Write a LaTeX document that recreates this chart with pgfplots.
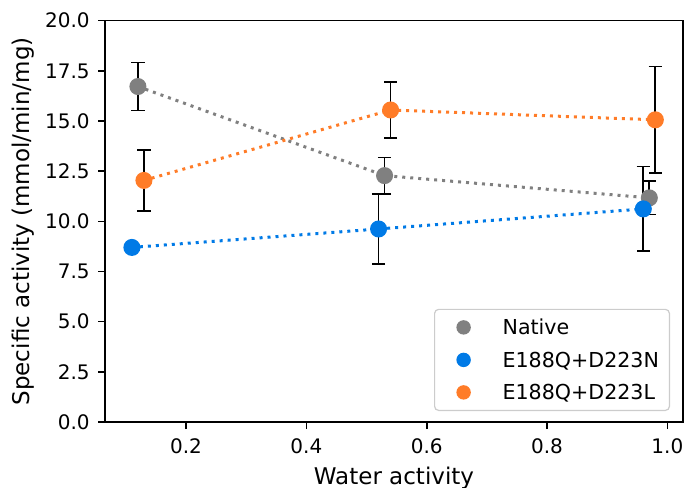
\documentclass[border=0pt]{standalone}
\usepackage{fontspec}
\setmainfont{DejaVu Sans}
\usepackage{pgfplots}
\pgfplotsset{compat=1.18}
\usepackage{pgfplotstable}
\definecolor{cgray}{RGB}{128,128,128}
\definecolor{cblue}{RGB}{0,122,230}
\definecolor{corange}{RGB}{255,124,40}
\definecolor{legedge}{RGB}{204,204,204}

\pgfplotstableread{
x y e
0.12 16.72 1.20
0.53 12.28 0.90
0.97 11.17 0.83
}\native
\pgfplotstableread{
x y e
0.11 8.70 0.0
0.52 9.62 1.73
0.96 10.62 2.11
}\mutN
\pgfplotstableread{
x y e
0.13 12.04 1.51
0.54 15.55 1.40
0.98 15.06 2.65
}\mutL

\pgfplotsset{
  dotline/.style={color=#1, line width=1.5pt, dash pattern=on 1.5pt off 2.5pt,
    mark=*, mark size=3.5pt, mark options={solid, fill=#1, draw=none}},
  legdot/.style={only marks, color=#1, mark=*, mark size=3.3pt, mark options={solid, fill=#1, draw=none}},
}

\begin{document}
\begin{tikzpicture}
\begin{axis}[
  name=ax,
  scale only axis,
  width=289pt, height=200.65pt,
  xmin=0.0653, xmax=1.026,
  ymin=0, ymax=20,
  xtick={0.2,0.4,0.6,0.8,1.0},
  ytick={0,2.5,5,7.5,10,12.5,15,17.5,20},
  tick align=outside,
  major tick length=3.5pt,
  xtick pos=bottom, ytick pos=left,
  every tick/.style={black, line width=0.8pt},
  axis line style={black, line width=0.8pt},
  /pgf/number format/assume math mode=true,
  tick label style={font=\fontsize{10}{12}\selectfont, inner sep=0pt},
  xticklabel style={yshift=-4.5pt, /pgf/number format/.cd, fixed, fixed zerofill, precision=1},
  yticklabel style={xshift=-4pt, /pgf/number format/.cd, fixed, fixed zerofill, precision=1},
  scaled ticks=false,
  xlabel={Water activity},
  ylabel={Specific activity (mmol/min/mg)},
  label style={font=\fontsize{11.5}{13}\selectfont, inner sep=0pt},
  xlabel style={at={(axis description cs:0.5,0)}, anchor=center, yshift=-28pt},
  ylabel style={at={([xshift=-41pt]axis description cs:0,0.5)}, anchor=center},
  legend style={at={(rel axis cs:1,0)}, anchor=south east, xshift=-6.5pt, yshift=5.5pt,
    draw=legedge, line width=0.6pt, rounded corners=2pt, fill=white,
    font=\fontsize{10.3}{12}\selectfont,
    inner xsep=11.2pt, inner ysep=4pt, row sep=6.25pt, column sep=16.2pt,
    nodes={inner sep=0pt, text height=8.75pt, text depth=1.25pt}},
  legend cell align=left,
  error bars/error bar style={draw=black, solid, line width=0.85pt},
  error bars/error mark options={draw=black, solid, line width=0.85pt, mark size=3.3pt, rotate=90},
]
% error bars first
\addplot[draw=none, mark=none, forget plot, error bars/.cd, y dir=both, y explicit]
  table[x=x, y=y, y error=e] {\native};
\addplot[draw=none, mark=none, forget plot, error bars/.cd, y dir=both, y explicit]
  table[x=x, y=y, y error=e] {\mutN};
\addplot[draw=none, mark=none, forget plot, error bars/.cd, y dir=both, y explicit]
  table[x=x, y=y, y error=e] {\mutL};
% lines and markers
\addplot[dotline=cgray, forget plot] table[x=x, y=y] {\native};
\addplot[dotline=cblue, forget plot] table[x=x, y=y] {\mutN};
\addplot[dotline=corange, forget plot] table[x=x, y=y] {\mutL};
% legend
\addlegendimage{legdot=cgray}
\addlegendentry{Native\hspace*{-6pt}}
\addlegendimage{legdot=cblue}
\addlegendentry{E188Q+D223N\hspace*{-6pt}}
\addlegendimage{legdot=corange}
\addlegendentry{E188Q+D223L\hspace*{-6pt}}
\end{axis}
\pgfresetboundingbox
\path[use as bounding box] ([xshift=-52.5pt, yshift=-32.5pt]ax.south west) rectangle ([xshift=1pt, yshift=10.35pt]ax.north east);
\end{tikzpicture}
\end{document}
